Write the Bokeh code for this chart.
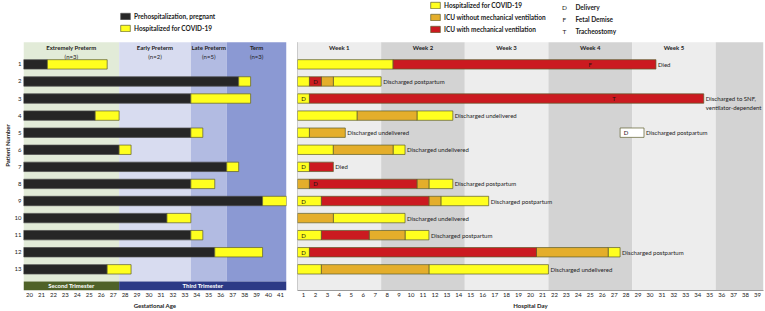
from bokeh.plotting import figure
from bokeh.models import Range1d, FixedTicker, ColumnDataSource, Legend, LegendItem
from bokeh.layouts import row
from bokeh.embed import file_html
from bokeh.resources import INLINE
from bokeh.core.properties import value

FONT = "Lato"

# ---------------- data ----------------
patients = list(range(1, 14))

ga_start = 19.5
ga_admission = [21.5, 37.5, 33.5, 25.5, 33.5, 27.5, 36.5, 33.5, 39.5, 31.5, 33.5, 35.5, 26.5]
ga_end = [26.5, 38.5, 38.5, 27.5, 34.5, 28.5, 37.5, 35.5, 41.5, 33.5, 34.5, 39.5, 28.5]

ga_categories = ["Extremely Preterm", "Early Preterm", "Late Preterm", "Term"]
ga_category_counts = ["(n=3)", "(n=2)", "(n=5)", "(n=3)"]
ga_category_bounds = [19.5, 27.5, 33.5, 36.5, 41.5]
trimesters = ["Second Trimester", "Third Trimester"]
trimester_bounds = [19.5, 27.5, 41.5]
ga_ticks = list(range(20, 42))

week_labels = ["Week 1", "Week 2", "Week 3", "Week 4", "Week 5", ""]
week_bounds = [0.5, 7.5, 14.5, 21.5, 28.5, 35.5, 39.5]
day_ticks = list(range(1, 40))

status_codes = ["HOSP", "ICU", "MV", "PP"]
status_names = ["Hospitalized for COVID-19", "ICU without mechanical ventilation",
                "ICU with mechanical ventilation", "Postpartum admission"]

seg_patient = [1, 1, 2, 2, 2, 2, 3, 3, 4, 4, 4, 5, 5, 5, 6, 6, 6, 7, 7, 8, 8, 8, 8,
               9, 9, 9, 9, 10, 10, 11, 11, 11, 11, 12, 12, 12, 12, 13, 13, 13]
seg_status = ["HOSP", "MV",
              "HOSP", "MV", "ICU", "HOSP",
              "HOSP", "MV",
              "HOSP", "ICU", "HOSP",
              "HOSP", "ICU", "PP",
              "HOSP", "ICU", "HOSP",
              "HOSP", "MV",
              "ICU", "MV", "ICU", "HOSP",
              "HOSP", "MV", "ICU", "HOSP",
              "ICU", "HOSP",
              "HOSP", "MV", "ICU", "HOSP",
              "HOSP", "MV", "ICU", "HOSP",
              "HOSP", "ICU", "HOSP"]
seg_first = [1, 9, 1, 2, 3, 4, 1, 2, 1, 6, 11, 1, 2, 28, 1, 4, 9, 1, 2, 1, 2, 11, 12,
             1, 3, 12, 13, 1, 4, 1, 3, 7, 10, 1, 2, 21, 27, 1, 3, 12]
seg_last = [8, 30, 1, 2, 3, 7, 1, 34, 5, 10, 13, 1, 4, 29, 3, 8, 9, 1, 3, 1, 10, 11, 13,
            2, 11, 12, 16, 3, 9, 2, 6, 9, 11, 1, 20, 26, 27, 2, 11, 21]

event_patient = [1, 2, 3, 3, 5, 7, 8, 9, 11, 12]
event_day = [25, 2, 1, 27, 28, 1, 2, 1, 1, 1]
event_code = ["F", "D", "D", "T", "D", "D", "D", "D", "D", "D"]

outcome_patient = [1, 2, 3, 4, 5, 5, 6, 7, 8, 9, 10, 11, 12, 13]
outcome_day = [30, 7, 34, 13, 4, 29, 9, 3, 13, 16, 9, 11, 27, 21]
outcome_text = ["Died", "Discharged postpartum", "Discharged to SNF,\nventilator-dependent",
                "Discharged undelivered", "Discharged undelivered", "Discharged postpartum",
                "Discharged undelivered", "Died", "Discharged postpartum", "Discharged postpartum",
                "Discharged undelivered", "Discharged postpartum", "Discharged postpartum",
                "Discharged undelivered"]

key_codes = ["D", "F", "T"]
key_labels = ["Delivery", "Fetal Demise", "Tracheostomy"]

# ---------------- style / layout ----------------
PANEL_TOP = -0.3
PANEL_BOTTOM = 14.24
TRIM_TOP = 13.71
Y_TOP = -2.74
BAR_H = 0.55
HEADER_Y = 0.0
COUNT_Y = 0.52

GA_COLORS = ["#e2ebd8", "#d8dcf0", "#b2bbe2", "#8b99d3"]
TRIM_COLORS = ["#4f6228", "#2c3a86"]
WEEK_COLORS = ["#ededed", "#d3d3d3", "#ededed", "#d3d3d3", "#ededed", "#d3d3d3"]
STATUS_COLORS = {"HOSP": "#ffff1f", "ICU": "#e4ae2b", "MV": "#cb1a20", "PP": "#ffffff"}
BLACK = "#262626"
OUTLINE = "#5b5b2b"
TEXT = "#222222"
FS = "6px"
LEG_FS = "6.5px"

W_LEFT = 291
W_RIGHT = 474
H = 311

yr = Range1d(start=PANEL_BOTTOM, end=Y_TOP)


def style_axes(p):
    p.xgrid.visible = False
    p.ygrid.visible = False
    p.outline_line_color = None
    for ax in p.axis:
        ax.major_label_text_font = FONT
        ax.major_label_text_font_size = FS
        ax.major_label_text_color = TEXT
        ax.axis_label_text_font = FONT
        ax.axis_label_text_font_size = FS
        ax.axis_label_text_font_style = "bold"
        ax.axis_label_text_color = TEXT
        ax.major_tick_line_color = None
        ax.minor_tick_line_color = None
        ax.major_tick_out = 0
        ax.major_tick_in = 0
        ax.major_label_standoff = 2
        ax.axis_label_standoff = 2


# ---------------- left panel ----------------
p1 = figure(width=W_LEFT, height=H, x_range=Range1d(ga_category_bounds[0], ga_category_bounds[-1]),
            y_range=yr, output_backend="svg", toolbar_location=None,
            min_border_left=23, min_border_right=5, min_border_top=0, min_border_bottom=0)
style_axes(p1)
p1.yaxis.axis_label_standoff = 1

p1.quad(left=ga_category_bounds[:-1], right=ga_category_bounds[1:], top=PANEL_TOP, bottom=TRIM_TOP,
        fill_color=GA_COLORS, line_color=None)
p1.quad(left=trimester_bounds[:-1], right=trimester_bounds[1:], top=TRIM_TOP, bottom=PANEL_BOTTOM,
        fill_color=TRIM_COLORS, line_color=None)
tri_centers = [(a + b) / 2 for a, b in zip(trimester_bounds[:-1], trimester_bounds[1:])]
p1.text(x=tri_centers, y=(TRIM_TOP + PANEL_BOTTOM) / 2, text=trimesters, text_color="white",
        text_font=value(FONT), text_font_size=FS, text_font_style="bold",
        text_align="center", text_baseline="middle")
cat_centers = [(a + b) / 2 for a, b in zip(ga_category_bounds[:-1], ga_category_bounds[1:])]
p1.text(x=cat_centers, y=HEADER_Y, text=ga_categories, text_color=TEXT, text_font=value(FONT),
        text_font_size=FS, text_font_style="bold", text_align="center", text_baseline="middle")
p1.text(x=cat_centers, y=COUNT_Y, text=ga_category_counts, text_color=TEXT, text_font=value(FONT),
        text_font_size=FS, text_align="center", text_baseline="middle")

r_pre = p1.hbar(y=patients, left=ga_start, right=ga_admission, height=BAR_H,
                fill_color=BLACK, line_color="#4a4a4a", line_width=0.7)
r_hosp = p1.hbar(y=patients, left=ga_admission, right=ga_end, height=BAR_H,
                 fill_color=STATUS_COLORS["HOSP"], line_color=OUTLINE, line_width=0.7)

p1.xaxis.ticker = FixedTicker(ticks=ga_ticks)
p1.xaxis.axis_label = "Gestational Age"
p1.xaxis.axis_line_color = None
p1.yaxis.ticker = FixedTicker(ticks=patients)
p1.yaxis.axis_label = "Patient Number"
p1.yaxis.axis_line_color = None

leg1 = Legend(items=[LegendItem(label="Prehospitalization, pregnant", renderers=[r_pre]),
                     LegendItem(label="Hospitalized for COVID-19", renderers=[r_hosp])],
              location=(96, 258), glyph_width=12, glyph_height=8, label_height=8, label_width=10,
              spacing=4, padding=0, margin=0, label_standoff=3, border_line_color=None,
              background_fill_alpha=0, label_text_font=FONT, label_text_font_size=LEG_FS,
              label_text_font_style="bold", label_text_color=TEXT)
p1.add_layout(leg1)

# ---------------- right panel ----------------
p2 = figure(width=W_RIGHT, height=H, x_range=Range1d(week_bounds[0], week_bounds[-1]), y_range=yr,
            output_backend="svg", toolbar_location=None,
            min_border_left=6, min_border_right=2, min_border_top=0, min_border_bottom=0)
style_axes(p2)
p2.yaxis.visible = False

p2.quad(left=week_bounds[:-1], right=week_bounds[1:], top=PANEL_TOP, bottom=PANEL_BOTTOM,
        fill_color=WEEK_COLORS, line_color=None)
week_centers = [(a + b) / 2 for a, b in zip(week_bounds[:-1], week_bounds[1:])]
p2.text(x=week_centers, y=HEADER_Y, text=week_labels, text_color=TEXT, text_font=value(FONT),
        text_font_size=FS, text_font_style="bold", text_align="center", text_baseline="middle")
p2.segment(x0=[week_bounds[0]], y0=[PANEL_TOP], x1=[week_bounds[0]], y1=[PANEL_BOTTOM],
           line_color="#9a9a9a", line_width=1)

status_renderers = {}
for code in status_codes:
    idx = [i for i, s in enumerate(seg_status) if s == code]
    src = ColumnDataSource(dict(
        y=[seg_patient[i] for i in idx],
        left=[seg_first[i] - 0.5 for i in idx],
        right=[seg_last[i] + 0.5 for i in idx],
    ))
    status_renderers[code] = p2.hbar(y="y", left="left", right="right", height=BAR_H, source=src,
                                     fill_color=STATUS_COLORS[code], line_color=OUTLINE, line_width=0.7)

p2.text(x=event_day, y=event_patient, text=event_code, text_color="#2a1212", text_font=value(FONT),
        text_font_size=FS, text_align="center", text_baseline="middle")
p2.text(x=[d + 0.5 for d in outcome_day], y=outcome_patient, text=outcome_text, x_offset=2, y_offset=-3.5,
        text_color=TEXT, text_font=value(FONT), text_font_size=FS, text_align="left",
        text_baseline="top", text_line_height=1.3)

p2.xaxis.ticker = FixedTicker(ticks=day_ticks)
p2.xaxis.axis_label = "Hospital Day"
p2.xaxis.axis_line_color = "#9a9a9a"

leg2 = Legend(items=[LegendItem(label=status_names[i], renderers=[status_renderers[c]])
                     for i, c in enumerate(status_codes[:3])],
              location=(132, 257), glyph_width=12, glyph_height=8, label_height=8, label_width=10,
              spacing=4, padding=0, margin=0, label_standoff=3, border_line_color=None,
              background_fill_alpha=0, label_text_font=FONT, label_text_font_size=LEG_FS,
              label_text_font_style="bold", label_text_color=TEXT)
p2.add_layout(leg2)

KEY_X = 22.84
KEY_LABEL_X = 23.76
KEY_Y = [-2.33, -1.64, -0.94]
p2.text(x=KEY_X, y=KEY_Y, text=key_codes, text_color=TEXT, text_font=value(FONT), text_font_size=LEG_FS,
        text_align="center", text_baseline="middle")
p2.text(x=KEY_LABEL_X, y=KEY_Y, text=key_labels, text_color=TEXT, text_font=value(FONT),
        text_font_size=LEG_FS, text_font_style="bold", text_align="left", text_baseline="middle")

layout = row(p1, p2)
with open("out.html", "w") as f:
    f.write(file_html(layout, INLINE, "Patient timelines"))
